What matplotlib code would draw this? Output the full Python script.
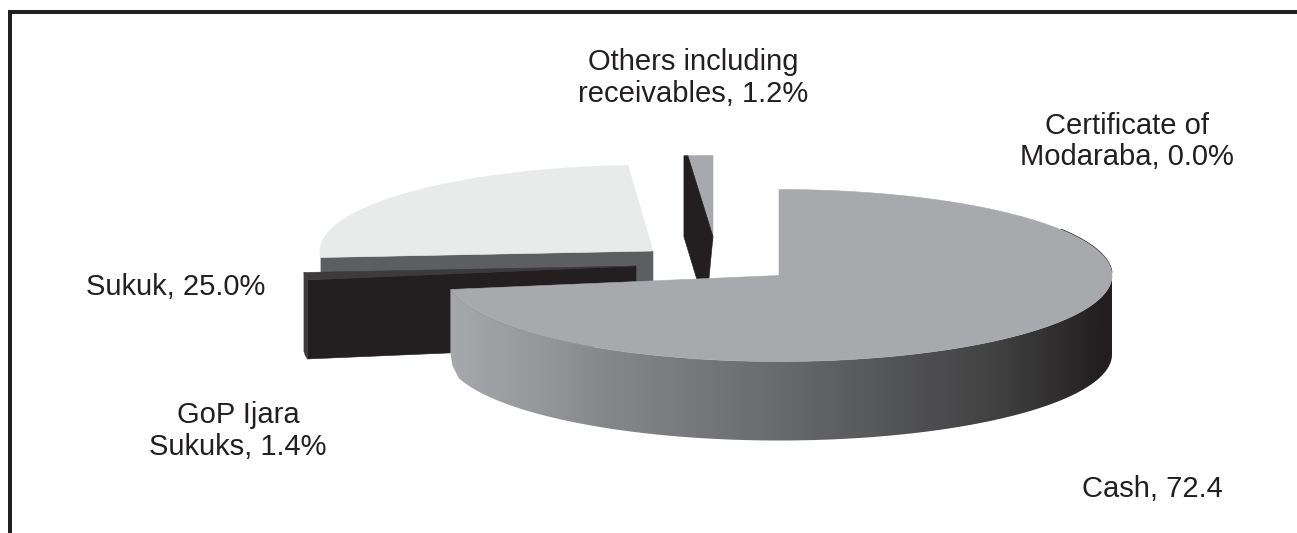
#!/usr/bin/env python3
"""Exploded 3D-look pie of asset allocation, drawn as ellipses. Saves out.png"""

import numpy as np
import matplotlib.pyplot as plt
from matplotlib.colors import LinearSegmentedColormap
from matplotlib.patches import Polygon

# shares in percent, clockwise from 12 o'clock
labels = ['Cash, 72.4', 'GoP Ijara\nSukuks, 1.4%', 'Sukuk, 25.0%',
          'Others including\nreceivables, 1.2%', 'Certificate of\nModaraba, 0.0%']
shares = [72.4, 1.4, 25.0, 1.2, 0.0]

# layout in image pixels
W, H = 1297, 533
RX, RY, DEPTH = 333, 86, 79
centers = [(779, 275.5), (636, 266), (653, 251), (713, 241.5), (779, 275.5)]
label_pos = [(1152, 489), (238, 431), (176, 287), (693, 78), (1127, 141.5)]

INK = '#231f20'
TOP_GREY = '#a7a9ac'
LIGHT = '#e9eaea'
WALL_GREY = '#5d5e60'
SLIVER = '#3c3a3b'

plt.rcParams['font.family'] = ['Liberation Sans', 'DejaVu Sans']


def arc(center, t0, t1, drop=0, n=200):
    """Ellipse points between angles t0, t1 (degrees clockwise from north)."""
    t = np.radians(np.linspace(t0, t1, n))
    return np.column_stack([center[0] + RX * np.sin(t),
                            center[1] - RY * np.cos(t) + drop])


def top_face(center, t0, t1):
    return np.vstack([[center], arc(center, t0, t1)])


def outer_wall(center, t0, t1):
    return np.vstack([arc(center, t0, t1), arc(center, t1, t0, DEPTH)])


def cut_face(center, t):
    edge = arc(center, t, t, n=1)[0]
    return np.array([center, edge, edge + [0, DEPTH], np.add(center, [0, DEPTH])])


def add(ax, points, color, z):
    patch = Polygon(points, closed=True, facecolor=color, edgecolor=color, lw=0.4, zorder=z)
    ax.add_patch(patch)
    return patch


def main():
    bounds = np.concatenate([[0], np.cumsum(shares)]) * 360.0 / sum(shares)
    cash, gop, sukuk, others = [(bounds[i], bounds[i + 1]) for i in range(4)]
    c_cash, c_gop, c_sukuk, c_others, _ = centers

    fig = plt.figure(figsize=(W / 100, H / 100), dpi=100)
    ax = fig.add_axes([0, 0, 1, 1])
    ax.set_xlim(0, W)
    ax.set_ylim(H, 0)
    ax.axis('off')

    # frame: only top and left rules
    ax.fill_between([8, W], 10, 13.5, color=INK, lw=0, zorder=1)
    ax.fill_between([8, 12], 10, H, color=INK, lw=0, zorder=1)

    # Sukuk
    add(ax, cut_face(c_sukuk, sukuk[0]), WALL_GREY, 2)
    add(ax, top_face(c_sukuk, *sukuk), LIGHT, 2.1)

    # GoP Ijara
    add(ax, cut_face(c_gop, gop[0]), INK, 3)
    add(ax, outer_wall(c_gop, *gop), SLIVER, 3)
    add(ax, top_face(c_gop, *gop), SLIVER, 3.1)

    # Others: cut face tapers towards the bottom, kite shape over the grey top
    add(ax, top_face(c_others, *others), TOP_GREY, 4)
    edge = arc(c_others, others[0], others[0], n=1)[0]
    kite = [edge, np.add(c_others, [0, -5]), np.add(c_others, [-7, 68]),
            edge + [-4, 81], edge + [-4, 0]]
    add(ax, kite, INK, 4.1)

    # Cash, wall shaded left to right, lower left corner rounded off
    front = arc(c_cash, 90, cash[1])
    bottom = arc(c_cash, cash[1] - 6.5, 90, DEPTH)
    corner = [front[-1] + [0, 64], front[-1] + [2, 76], front[-1] + [6, 84]]
    wall = add(ax, np.vstack([front, corner, bottom]), 'none', 5)
    wall.set_edgecolor('none')
    shade = LinearSegmentedColormap.from_list(
        'wall', [(0, '#a7a9ac'), (0.156, '#939598'), (0.23, '#87888a'),
                 (0.49, '#6a6b6e'), (0.83, '#414142'), (0.985, INK), (1, INK)])
    img = ax.imshow(np.linspace(0, 1, 512)[None, :], cmap=shade, aspect='auto', zorder=5,
                    extent=[c_cash[0] - RX, c_cash[0] + RX, H, 0])
    img.set_clip_path(wall)
    ax.set_xlim(0, W)
    ax.set_ylim(H, 0)
    # thin dark edge behind the top face, where the 0.0% slice sits
    rim = arc(c_cash, 58, 88)
    ax.plot(rim[:, 0], rim[:, 1] - 0.5, color=INK, lw=0.8, zorder=5.5)
    add(ax, top_face(c_cash, *cash), TOP_GREY, 6)

    for text, (x, y) in zip(labels, label_pos):
        ax.text(x, y, text, fontsize=21, color=INK, ha='center', va='center',
                linespacing=1.16, zorder=7)

    fig.savefig('out.png', dpi=100)
    plt.close(fig)


if __name__ == '__main__':
    main()
